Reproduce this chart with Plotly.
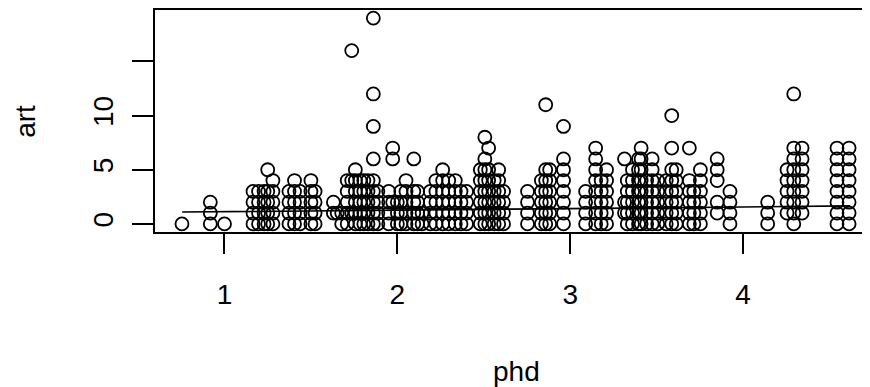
import plotly.graph_objects as go

# Column positions (phd) and the distinct art values visible in each column
phd_cols = [0.754, 0.918, 1.00, 1.165, 1.197, 1.229, 1.25, 1.28, 1.373, 1.405,
            1.437, 1.50, 1.524, 1.63, 1.652, 1.678, 1.71, 1.736, 1.757, 1.784,
            1.806, 1.83, 1.861, 1.887, 1.95, 1.973, 2.00, 2.02, 2.05, 2.095,
            2.117, 2.143, 2.19, 2.223, 2.262, 2.297, 2.335, 2.368, 2.40, 2.48,
            2.506, 2.528, 2.56, 2.586, 2.614, 2.753, 2.833, 2.858, 2.881, 2.961,
            3.089, 3.147, 3.179, 3.21, 3.314, 3.33, 3.36, 3.395, 3.41, 3.442,
            3.474, 3.506, 3.555, 3.587, 3.613, 3.689, 3.715, 3.753, 3.85, 3.924,
            4.142, 4.254, 4.293, 4.341, 4.543, 4.613]
art_cols = [
    [0], [0, 1, 2], [0], [0, 1, 2, 3], [0, 1, 2, 3], [0, 1, 2, 3], [0, 1, 2, 3, 5], [0, 1, 2, 3, 4],
    [0, 1, 2, 3], [0, 1, 2, 3, 4],
    [0, 1, 2, 3], [0, 1, 2, 3, 4], [0, 1, 2, 3], [1, 2], [1], [0, 1], [0, 1, 2, 3, 4], [1, 4, 16], [0, 1, 2, 3, 4, 5], [0, 1, 2, 3, 4],
    [0, 1, 2, 3, 4], [0, 1, 2, 3, 4], [0, 1, 2, 3, 4, 6, 9, 12, 19], [0, 1, 2, 3], [0, 1, 2, 3], [2, 6, 7], [0, 1, 2], [0, 1, 2, 3], [0, 1, 2, 3, 4], [0, 1, 2, 3, 6],
    [0, 1, 2, 3], [0, 1], [0, 1, 2, 3], [0, 1, 2, 3, 4], [0, 1, 2, 3, 4, 5], [0, 1, 2, 3, 4], [0, 1, 2, 3, 4], [0, 1, 2, 3], [0, 1, 2, 3], [0, 1, 2, 3, 4, 5],
    [0, 1, 2, 3, 4, 5, 6, 8], [0, 1, 2, 3, 4, 5, 7], [0, 1, 2, 3, 4], [0, 1, 2, 3, 4, 5], [0, 1, 2, 3], [0, 1, 2, 3], [0, 1, 2, 3, 4], [0, 1, 2, 3, 4, 5, 11], [0, 1, 2, 3, 4, 5], [0, 1, 2, 3, 4, 5, 6, 9],
    [0, 1, 2, 3], [0, 1, 2, 3, 4, 5, 6, 7], [0, 1, 2, 3, 4], [0, 1, 2, 3, 4, 5], [1, 2, 6], [0, 1, 2, 3, 4], [0, 1, 2, 3, 4, 5], [0, 1, 2, 3, 4, 5, 6], [0, 1, 2, 3, 4, 5, 6, 7], [0, 1, 2, 3, 4],
    [0, 1, 2, 3, 4, 5, 6], [0, 1, 2, 3, 4], [0, 1, 2, 3, 4], [0, 1, 2, 3, 4, 5, 7, 10], [0, 1, 2, 3, 4, 5], [0, 1, 2, 3, 4, 7], [0, 1, 2, 3], [0, 1, 2, 3, 4, 5], [1, 2, 4, 5, 6], [0, 1, 2, 3],
    [0, 1, 2], [1, 2, 3, 4, 5], [0, 1, 2, 3, 4, 5, 6, 7, 12], [1, 2, 3, 4, 5, 6, 7], [0, 1, 2, 3, 4, 5, 6, 7], [0, 1, 2, 3, 4, 5, 6, 7],
]

# Smoothed trend line
trend_phd = [0.755, 1.5, 2.0, 2.5, 3.0, 3.5, 4.0, 4.62]
trend_art = [1.09, 1.18, 1.25, 1.33, 1.40, 1.48, 1.56, 1.66]

x_ticks = [1, 2, 3, 4]
y_ticks = [0, 5, 10, 15]
y_ticktext = ["0", "5", "10", ""]

phd = []
art = []
for p, arts in zip(phd_cols, art_cols):
    for a in arts:
        phd.append(p)
        art.append(a)

FONT = "Liberation Sans, Arial, Helvetica, sans-serif"

fig = go.Figure()
fig.add_trace(go.Scatter(
    x=phd, y=art, mode="markers",
    marker=dict(symbol="circle-open", size=13, color="black", line=dict(width=1.8, color="black")),
    showlegend=False, hoverinfo="skip"))
fig.add_trace(go.Scatter(
    x=trend_phd, y=trend_art, mode="lines",
    line=dict(color="black", width=1.6), showlegend=False, hoverinfo="skip"))

# the page body has an 8px margin, so the figure is offset by 8px
fig.update_layout(
    width=862, height=379,
    margin=dict(l=147, r=0, t=2, b=155, pad=0),
    paper_bgcolor="white", plot_bgcolor="white",
    font=dict(family=FONT, size=28, color="black"),
    xaxis=dict(range=[0.598, 4.734], tickvals=x_ticks, ticks="outside", ticklen=20,
               tickwidth=2, tickcolor="black", showline=True, linewidth=2,
               linecolor="black", mirror=True, showgrid=False, zeroline=False,
               tickfont=dict(size=28), ticklabelstandoff=16),
    yaxis=dict(range=[-0.75, 19.75], tickvals=y_ticks, ticktext=y_ticktext,
               tickangle=-90, ticks="outside", ticklen=21, tickwidth=2,
               tickcolor="black", showline=True, linewidth=2, linecolor="black",
               mirror=False, showgrid=False, zeroline=False,
               tickfont=dict(size=28), ticklabelstandoff=8),
    annotations=[
        dict(text="phd", xref="paper", yref="paper", x=0.505, y=-0.63, xanchor="center",
             yanchor="middle", showarrow=False, font=dict(size=28)),
        dict(text="art", xref="paper", yref="paper", x=-0.182, y=0.5, xanchor="center",
             yanchor="middle", textangle=-90, showarrow=False, font=dict(size=28)),
    ],
)

fig.write_html("out.html")
